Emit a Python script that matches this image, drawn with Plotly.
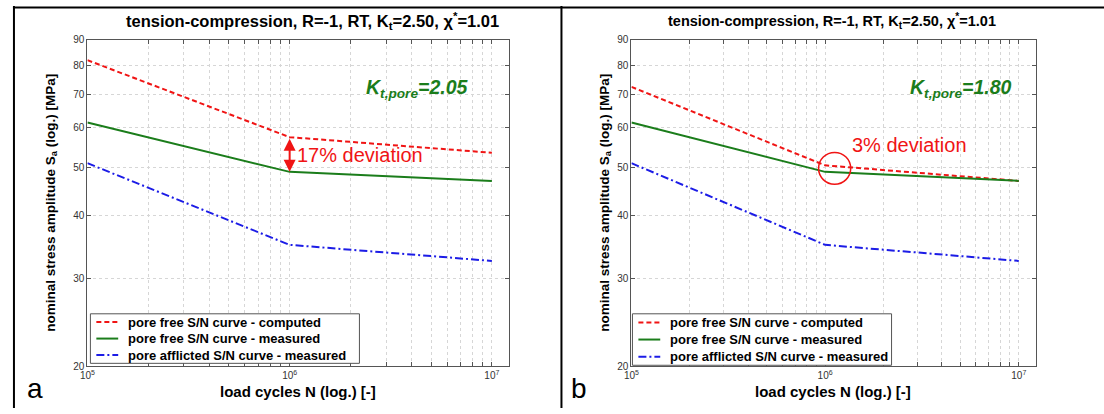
import math
import plotly.graph_objects as go

# S/N curve data (load cycles vs. nominal stress amplitude in MPa)
cycles = [1e5, 1e6, 1e7]
computed_a = [82.0, 57.5, 53.5]      # pore free, computed (K_t,pore = 2.05)
computed_b = [72.5, 50.5, 47.0]      # pore free, computed (K_t,pore = 1.80)
measured_free = [61.5, 49.0, 47.0]   # pore free, measured
measured_pore = [51.0, 35.0, 32.5]   # pore afflicted, measured

kt_pore = ["2.05", "1.80"]
deviation_text = ["17% deviation", "3% deviation"]
panel_letters = ["a", "b"]
series_names = ["pore free S/N curve - computed",
                "pore free S/N curve - measured",
                "pore afflicted S/N curve - measured"]

y_ticks = [20, 30, 40, 50, 60, 70, 80, 90]
x_decades = [5, 6, 7]

FONT = "Arial, Liberation Sans, Helvetica, sans-serif"
RED = "#f01414"
GREEN = "#1b7d1b"
BLUE = "#1c1ce6"
W, H = 1104, 414
styles = [dict(color=RED, width=2, dash="5px,3px"),
          dict(color=GREEN, width=2),
          dict(color=BLUE, width=2, dash="8px,3px,2px,3px")]

# x tick/grid positions: every integer multiple inside each decade
x_tickvals, x_ticktext = [], []
for d in x_decades:
    for m in range(1, 10):
        v = m * 10 ** d
        if v > 1e7:
            break
        x_tickvals.append(v)
        x_ticktext.append(f"10<sup>{d}</sup>" if m == 1 else "")

fig = go.Figure()

for i, comp in enumerate([computed_a, computed_b]):
    xa = "x" if i == 0 else "x2"
    ya = "y" if i == 0 else "y2"
    for name, vals, st in zip(series_names, [comp, measured_free, measured_pore], styles):
        fig.add_trace(go.Scatter(x=cycles, y=vals, mode="lines", name=name,
                                 line=st, xaxis=xa, yaxis=ya, showlegend=False))

x_range = [5, math.log10(1.22e7)]
y_range = [math.log10(20), math.log10(90)]
y_dom = [1 - 371 / H, 1 - 35 / H]
x_doms = [[80 / W, 505 / W], [628 / W, 1035 / W]]

axis_common = dict(
    type="log", showline=True, linecolor="#555555", linewidth=1,
    mirror="allticks", ticks="inside", ticklen=4, tickcolor="#555555",
    showgrid=True, gridcolor="#d6d6d6", griddash="dot", gridwidth=1,
    zeroline=False, tickfont=dict(family=FONT, size=10, color="#333333"),
)

for i, dom in enumerate(x_doms):
    sfx = "" if i == 0 else "2"
    fig.update_layout(**{
        f"xaxis{sfx}": dict(axis_common, domain=dom, range=x_range,
                            tickvals=x_tickvals, ticktext=x_ticktext,
                            anchor=f"y{sfx}"),
        f"yaxis{sfx}": dict(axis_common, domain=y_dom, range=y_range,
                            tickvals=y_ticks, ticktext=[str(v) for v in y_ticks],
                            anchor=f"x{sfx}"),
    })

annotations = []
shapes = []
title = "<b>tension-compression, R=-1, RT, K<sub>t</sub>=2.50, χ<sup>*</sup>=1.01</b>"
# per-panel layout: title centre/size, y-title offset, K_t,pore centre (fraction of plot width)
title_cx = [307, 830]
title_size = [16.5, 14.5]
ytitle_off = [37, 27]
kt_frac = [0.781, 0.815]
# legend boxes in pixels: left, top, right, bottom
legend_box = [(83, 317, 354, 368), (629, 317, 890, 370)]

def px(x):
    return x / W

def py(y):
    return 1 - y / H

for i, dom in enumerate(x_doms):
    xc = (dom[0] + dom[1]) / 2
    # panel title
    annotations.append(dict(text=title, x=px(title_cx[i]), y=py(15), xref="paper", yref="paper",
                            showarrow=False, font=dict(family=FONT, size=title_size[i], color="black"),
                            xanchor="center", yanchor="middle"))
    # axis titles
    annotations.append(dict(text="<b>load cycles N (log.) [-]</b>", x=xc, y=py(397),
                            xref="paper", yref="paper", showarrow=False,
                            font=dict(family=FONT, size=15, color="black"),
                            xanchor="center", yanchor="middle"))
    annotations.append(dict(text="<b>nominal stress amplitude S<sub>a</sub> (log.) [MPa]</b>",
                            x=px(dom[0] * W - ytitle_off[i]), y=(y_dom[0] + y_dom[1]) / 2,
                            xref="paper", yref="paper", showarrow=False, textangle=-90,
                            font=dict(family=FONT, size=13.5, color="black"),
                            xanchor="center", yanchor="middle"))
    # panel letter
    annotations.append(dict(text=panel_letters[i], x=px(dom[0] * W - 53), y=py(394),
                            xref="paper", yref="paper", showarrow=False,
                            font=dict(family=FONT, size=28, color="black"),
                            xanchor="center", yanchor="middle"))
    # K_t,pore label
    annotations.append(dict(text="<b><i>K<sub>t,pore</sub>=%s</i></b>" % kt_pore[i],
                            x=dom[0] + kt_frac[i] * (dom[1] - dom[0]), y=py(85),
                            xref="paper", yref="paper", showarrow=False,
                            font=dict(family=FONT, size=19.5, color=GREEN),
                            xanchor="center", yanchor="middle"))

    # legend box with line samples and labels
    l, t, r, b = legend_box[i]
    shapes.append(dict(type="rect", xref="paper", yref="paper",
                       x0=px(l), x1=px(r), y0=py(b), y1=py(t),
                       fillcolor="white", line=dict(color="#555555", width=1), layer="above"))
    row_h = (b - t) / 3
    for k, (name, st) in enumerate(zip(series_names, styles)):
        yc = t + row_h * (k + 0.5)
        shapes.append(dict(type="line", xref="paper", yref="paper",
                           x0=px(l + 6), x1=px(l + 28), y0=py(yc), y1=py(yc),
                           line=st, layer="above"))
        annotations.append(dict(text=name, x=px(l + 36), y=py(yc), xref="paper", yref="paper",
                                showarrow=False, xanchor="left", yanchor="middle",
                                font=dict(family=FONT, size=13, color="black", weight="bold")))

# panel a: double arrow between computed and measured curve at 1e6 cycles
comp_a_1e6 = computed_a[1]
meas_1e6 = measured_free[1]
annotations.append(dict(x=6, y=math.log10(meas_1e6), ax=6, ay=math.log10(comp_a_1e6),
                        xref="x", yref="y", axref="x", ayref="y", text="",
                        showarrow=True, arrowhead=2, arrowside="end+start",
                        arrowsize=1.2, arrowwidth=2, arrowcolor=RED,
                        startarrowhead=2, startarrowsize=1.2, standoff=0, startstandoff=0))
annotations.append(dict(text=deviation_text[0], x=6.025,
                        y=math.log10((comp_a_1e6 * meas_1e6) ** 0.5), xref="x", yref="y",
                        showarrow=False, xanchor="left", yanchor="middle",
                        font=dict(family=FONT, size=20, color=RED)))

# panel b: circle around the knee at 1e6 cycles (shape coordinates in data units)
circle_center = (1.12e6, 49.8)
span_x, span_y = 10 ** 0.083, 10 ** 0.032
shapes.append(dict(type="circle", xref="x2", yref="y2",
                   x0=circle_center[0] / span_x, x1=circle_center[0] * span_x,
                   y0=circle_center[1] / span_y, y1=circle_center[1] * span_y,
                   line=dict(color=RED, width=1.5)))
annotations.append(dict(text=deviation_text[1], x=math.log10(1.35e6), y=math.log10(55.5),
                        xref="x2", yref="y2", showarrow=False, xanchor="left",
                        yanchor="middle", font=dict(family=FONT, size=20, color=RED)))

# panel frames
frame = dict(color="black", width=2)
shapes += [
    dict(type="line", xref="paper", yref="paper", x0=px(5), x1=1, y0=py(1.5), y1=py(1.5), line=frame),
    dict(type="line", xref="paper", yref="paper", x0=px(6), x1=px(6), y0=0, y1=1, line=frame),
    dict(type="line", xref="paper", yref="paper", x0=px(557.5), x1=px(557.5), y0=0, y1=1, line=frame),
]

fig.update_layout(
    width=W, height=H, margin=dict(l=0, r=0, t=0, b=0),
    paper_bgcolor="white", plot_bgcolor="white",
    annotations=annotations, shapes=shapes,
    font=dict(family=FONT), showlegend=False,
)

fig.write_html("out.html")
